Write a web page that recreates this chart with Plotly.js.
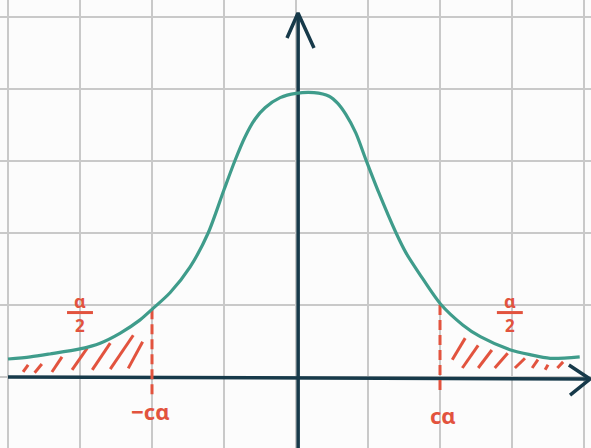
<!DOCTYPE html>
<html>
<head>
<meta charset="utf-8">
<script src="https://cdn.plot.ly/plotly-3.0.1.min.js"></script>
<style>
  html, body { margin: 0; padding: 0; background: #fcfcfc; }
  #chart { width: 591px; height: 448px; }
</style>
</head>
<body>
<div id="chart"></div>
<script>
// Bell-shaped density curve, one grid square = one unit
const curveX = [-4.0, -3.69, -3.42, -3.0, -2.72, -2.44, -2.17, -2.0, -1.75, -1.47, -1.22, -1.0,
                -0.85, -0.71, -0.57, -0.43, -0.22, 0.0, 0.25, 0.46, 0.58, 0.69, 0.83, 0.97,
                1.15, 1.39, 1.53, 1.71, 2.01, 2.32, 2.56, 2.97, 3.25, 3.53, 3.94];
const curveY = [0.25, 0.28, 0.32, 0.39, 0.47, 0.61, 0.79, 0.94, 1.17, 1.53, 2.0, 2.6,
                3.0, 3.33, 3.58, 3.74, 3.88, 3.94, 3.95, 3.9, 3.8, 3.65, 3.39, 3.02,
                2.56, 2.0, 1.72, 1.44, 1.01, 0.72, 0.56, 0.38, 0.31, 0.26, 0.28];

// Critical values
const critX = [-2.0, 2.0];
const critTop = [0.94, 1.0];
const critBottom = -0.25;
const critLabels = ["−cα", "cα"];

// Hatch strokes in the two rejection tails
const hatchX0 = [-3.79, -3.63, -3.39, -3.11, -2.83, -2.58, -2.33,
                 2.17, 2.31, 2.53, 2.76, 3.04, 3.28, 3.46, 3.63];
const hatchY0 = [0.07, 0.06, 0.07, 0.10, 0.10, 0.11, 0.12,
                 0.24, 0.125, 0.125, 0.125, 0.125, 0.125, 0.10, 0.125];
const hatchX1 = [-3.72, -3.53, -3.25, -2.90, -2.58, -2.26, -2.13,
                 2.35, 2.53, 2.72, 2.94, 3.18, 3.36, 3.50, 3.71];
const hatchY1 = [0.17, 0.18, 0.28, 0.40, 0.47, 0.58, 0.49,
                 0.54, 0.44, 0.375, 0.33, 0.26, 0.24, 0.17, 0.21];

// Tail-area labels (alpha over 2)
const tailLabelX = [-3.0, 2.97];
const tailLabelTop = "α";
const tailLabelBottom = "2";

const RED = "#e2533e";
const TEAL = "#3f9c8b";
const INK = "#173a4a";

const traces = [];

// Axes with hand-drawn arrow heads
traces.push({
  x: [-4.0, 4.083, null, 3.79, 4.083, 3.806, null, 0.03, 0.03, null, -0.125, 0.028, 0.25],
  y: [0.0, -0.028, null, 0.167, -0.028, -0.25, null, -0.99, 5.056, null, 4.708, 5.056, 4.569],
  mode: "lines",
  line: { color: INK, width: 3.5 },
  hoverinfo: "skip"
});

// Hatching
const hx = [], hy = [];
for (let i = 0; i < hatchX0.length; i++) {
  hx.push(hatchX0[i], hatchX1[i], null);
  hy.push(hatchY0[i], hatchY1[i], null);
}
traces.push({
  x: hx, y: hy, mode: "lines",
  line: { color: RED, width: 3 },
  hoverinfo: "skip"
});

// Dashed markers at the critical values
critX.forEach((cx, i) => {
  traces.push({
    x: [cx, cx], y: [critTop[i], critBottom], mode: "lines",
    line: { color: RED, width: 3, dash: "10px,5px" },
    hoverinfo: "skip"
  });
});

// Density curve
traces.push({
  x: curveX, y: curveY, mode: "lines",
  line: { color: TEAL, width: 3.2, shape: "spline", smoothing: 0.8 },
  hoverinfo: "skip"
});

// Fraction bars under alpha
tailLabelX.forEach((tx) => {
  traces.push({
    x: [tx - 0.18, tx + 0.18], y: [0.895, 0.895], mode: "lines",
    line: { color: RED, width: 3 },
    hoverinfo: "skip"
  });
});

const annotations = [];
critX.forEach((cx, i) => {
  annotations.push({
    x: cx + (i === 0 ? -0.02 : 0.04), y: i === 0 ? -0.47 : -0.53,
    text: critLabels[i], showarrow: false,
    font: { family: "Noto Sans", size: 22, weight: 700, color: RED }
  });
});
tailLabelX.forEach((tx) => {
  annotations.push({
    x: tx, y: 1.06, text: tailLabelTop, showarrow: false,
    font: { family: "Noto Sans", size: 18, weight: 700, color: RED }
  });
  annotations.push({
    x: tx, y: 0.72, text: tailLabelBottom, showarrow: false,
    font: { family: "Noto Sans", size: 17, weight: 700, color: RED }
  });
});

const layout = {
  width: 591, height: 448,
  margin: { l: 0, r: 0, t: 0, b: 0 },
  paper_bgcolor: "#fcfcfc",
  plot_bgcolor: "#fcfcfc",
  showlegend: false,
  xaxis: {
    range: [-4.111, 4.097], tick0: 0, dtick: 1,
    showgrid: true, gridcolor: "#c9c9c9", gridwidth: 2,
    zeroline: false, showticklabels: false, ticks: "", fixedrange: true
  },
  yaxis: {
    range: [-0.986, 5.236], tick0: 0, dtick: 1,
    showgrid: true, gridcolor: "#c9c9c9", gridwidth: 2,
    zeroline: false, showticklabels: false, ticks: "", fixedrange: true
  },
  annotations: annotations
};

Plotly.newPlot("chart", traces, layout, { staticPlot: true, displayModeBar: false });
</script>
</body>
</html>
